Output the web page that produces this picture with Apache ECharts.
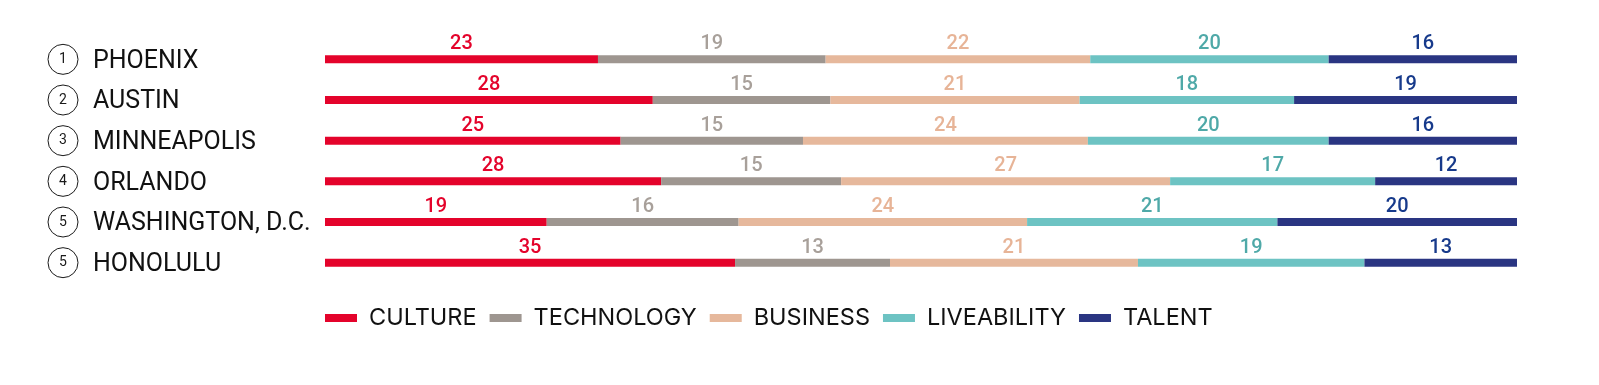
<!DOCTYPE html>
<html>
<head>
<meta charset="utf-8">
<style>
  html, body { margin: 0; padding: 0; background: #ffffff; }
  #chart { width: 1599px; height: 385px; }
</style>
<script src="https://cdn.jsdelivr.net/npm/echarts@6/dist/echarts.min.js"></script>
</head>
<body>
<div id="chart"></div>
<script>
// ---- data ----
const cities = ['PHOENIX', 'AUSTIN', 'MINNEAPOLIS', 'ORLANDO', 'WASHINGTON, D.C.', 'HONOLULU'];
const ranks = ['1', '2', '3', '4', '5', '5'];
const seriesNames = ['CULTURE', 'TECHNOLOGY', 'BUSINESS', 'LIVEABILITY', 'TALENT'];

// segment sizes (share of bar, %)
const culture     = [22.9, 27.5, 24.8, 28.2, 18.6, 34.4];
const technology  = [19.1, 14.9, 15.3, 15.1, 16.1, 13.0];
const business    = [22.2, 20.9, 23.9, 27.6, 24.2, 20.8];
const liveability = [20.0, 18.0, 20.2, 17.2, 21.0, 19.0];
const talent      = [15.8, 18.7, 15.8, 11.9, 20.1, 12.8];

// printed labels
const cultureLabels     = [23, 28, 25, 28, 19, 35];
const technologyLabels  = [19, 15, 15, 15, 16, 13];
const businessLabels    = [22, 21, 24, 27, 24, 21];
const liveabilityLabels = [20, 18, 20, 17, 21, 19];
const talentLabels      = [16, 19, 16, 12, 20, 13];

// ---- styling ----
const barColors   = ['#E4032B', '#9E9690', '#E6B89C', '#6DC3C3', '#2A3582'];
const labelColors = ['#E4032B', '#A8A09A', '#E7B497', '#4FA9A8', '#173A8B'];

const values = [culture, technology, business, liveability, talent];
const labels = [cultureLabels, technologyLabels, businessLabels, liveabilityLabels, talentLabels];

const chart = echarts.init(document.getElementById('chart'), null, { renderer: 'canvas' });

const series = seriesNames.map((name, s) => ({
  name: name,
  type: 'bar',
  stack: 'total',
  barWidth: 8,
  data: values[s],
  itemStyle: { color: barColors[s] },
  label: {
    show: true,
    position: 'top',
    distance: 1,
    formatter: p => String(labels[s][p.dataIndex]),
    color: labelColors[s],
    fontFamily: 'Roboto',
    fontSize: 20,
    fontWeight: 500
  },
  emphasis: { disabled: true }
}));

chart.setOption({
  animation: false,
  backgroundColor: '#ffffff',
  grid: { left: 325, right: 82, top: 39, height: 244 },
  xAxis: {
    type: 'value', min: 0, max: 100, show: false
  },
  yAxis: {
    type: 'category',
    data: cities,
    inverse: true,
    axisLine: { show: false },
    axisTick: { show: false },
    splitLine: { show: false },
    axisLabel: {
      align: 'left',
      margin: 277,
      formatter: (v, i) => '{r|' + ranks[i] + '}{n|' + v + '}',
      rich: {
        r: {
          width: 30, height: 30, lineHeight: 30,
          align: 'center', verticalAlign: 'middle',
          borderRadius: 16, borderWidth: 1, borderColor: '#1a1a1a',
          fontFamily: 'Roboto', fontSize: 14, color: '#1a1a1a'
        },
        n: {
          fontFamily: 'Roboto', fontSize: 25, fontWeight: 400,
          color: '#111111', padding: [4, 0, 0, 15], verticalAlign: 'middle'
        }
      }
    }
  },
  legend: {
    data: seriesNames,
    left: 320,
    top: 301,
    itemWidth: 32,
    itemHeight: 8,
    itemGap: 13,
    icon: 'rect',
    selectedMode: false,
    textStyle: {
      fontFamily: 'Inter',
      fontSize: 23.5,
      color: '#111111',
      padding: [0, 0, 0, 7]
    }
  },
  series: series
});
</script>
</body>
</html>
